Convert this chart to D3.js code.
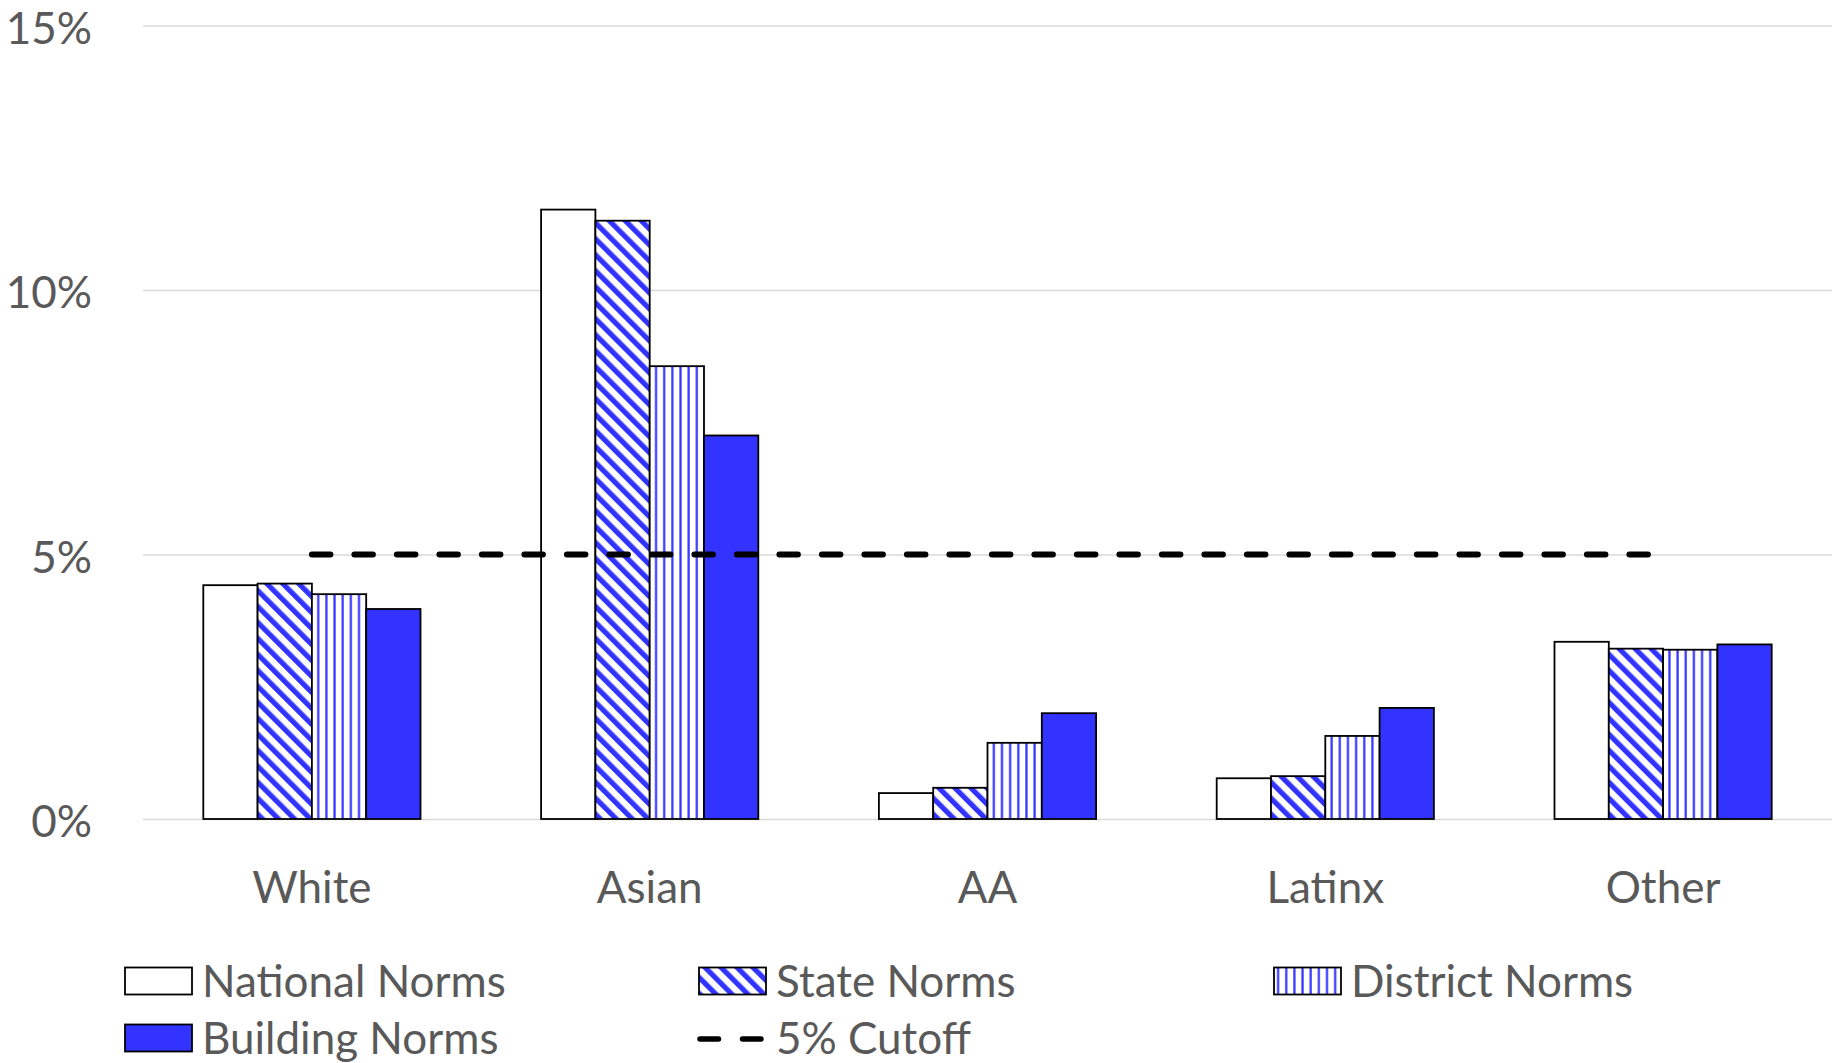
<!DOCTYPE html>
<html>
<head>
<meta charset="utf-8">
<script src="https://cdn.jsdelivr.net/npm/d3@7"></script>
<style>
  html, body { margin: 0; padding: 0; background: #ffffff; }
  svg { display: block; }
  text { font-family: Lato, "Open Sans", sans-serif; fill: #595959; }
</style>
</head>
<body>
<svg id="chart" width="1832" height="1063"></svg>
<script>
// ---- Data ----
const categories = ["White", "Asian", "AA", "Latinx", "Other"];
const seriesNames = ["National Norms", "State Norms", "District Norms", "Building Norms"];
const nationalNorms = [4.42, 11.52, 0.49, 0.77, 3.35];
const stateNorms    = [4.45, 11.31, 0.59, 0.81, 3.22];
const districtNorms = [4.25, 8.56, 1.44, 1.57, 3.20];
const buildingNorms = [3.97, 7.25, 2.00, 2.10, 3.30];
const cutoffValues  = [5, 5, 5, 5, 5];
const cutoffName = "5% Cutoff";
const yTicks = [0, 5, 10, 15];
const yTickLabels = ["0%", "5%", "10%", "15%"];

const seriesValues = [nationalNorms, stateNorms, districtNorms, buildingNorms];

// ---- Layout ----
const W = 1832, H = 1063;
const plotLeft = 143, plotRight = 1832;
const plotTop = 25.5, plotBottom = 819;
const BLUE = "#3333FF";
const GRID = "#D9D9D9";
const FONT_SIZE = 44;

const svg = d3.select("#chart");

// patterns
const defs = svg.append("defs");
const pState = defs.append("pattern")
  .attr("id", "patState")
  .attr("patternUnits", "userSpaceOnUse")
  .attr("width", 11.3).attr("height", 11.3)
  .attr("patternTransform", "rotate(-45)");
pState.append("rect").attr("width", 11.3).attr("height", 11.3).attr("fill", "#fff");
pState.append("rect").attr("x", 0).attr("width", 5.2).attr("height", 11.3).attr("fill", BLUE);

const pDist = defs.append("pattern")
  .attr("id", "patDistrict")
  .attr("patternUnits", "userSpaceOnUse")
  .attr("width", 8.15).attr("height", 10);
pDist.append("rect").attr("width", 8.15).attr("height", 10).attr("fill", "#fff");
pDist.append("rect").attr("x", 3).attr("width", 2.2).attr("height", 10).attr("fill", BLUE);

const fills = ["#ffffff", "url(#patState)", "url(#patDistrict)", BLUE];

// scales
const x0 = d3.scaleBand().domain(categories).range([plotLeft, plotRight]).padding(0);
const groupFrac = 0.643;
const bw = x0.bandwidth();
const x1 = d3.scaleBand().domain(seriesNames)
  .range([bw * (1 - groupFrac) / 2, bw * (1 + groupFrac) / 2]).padding(0);
const y = d3.scaleLinear().domain([0, 15]).range([plotBottom, plotTop]);

// gridlines
const grid = svg.append("g")
  .attr("transform", `translate(${plotLeft},0)`)
  .call(d3.axisRight(y).tickValues(yTicks).tickSize(plotRight - plotLeft).tickFormat(""));
grid.select(".domain").remove();
grid.selectAll("line").attr("stroke", GRID).attr("stroke-width", 1.6);

// y-axis labels
const yAxis = svg.append("g")
  .attr("transform", `translate(92,0)`)
  .call(d3.axisLeft(y).tickValues(yTicks).tickSize(0).tickPadding(0)
    .tickFormat((d, i) => yTickLabels[i]));
yAxis.select(".domain").remove();
yAxis.selectAll("text")
  .attr("font-size", FONT_SIZE)
  .attr("fill", "#595959")
  .attr("dy", null)
  .attr("y", 17.5)
  .style("font-family", "Lato, sans-serif");

// bars
const rows = categories.map((c, ci) => ({
  cat: c,
  vals: seriesNames.map((s, si) => ({ s, si, v: seriesValues[si][ci] }))
}));
const groups = svg.append("g").selectAll("g")
  .data(rows).join("g")
  .attr("transform", d => `translate(${x0(d.cat)},0)`);
groups.selectAll("rect")
  .data(d => d.vals).join("rect")
  .attr("x", d => x1(d.s))
  .attr("width", x1.bandwidth())
  .attr("y", d => y(d.v))
  .attr("height", d => y(0) - y(d.v))
  .attr("fill", d => fills[d.si])
  .attr("stroke", "#000")
  .attr("stroke-width", 1.8);

// cutoff line
const line = d3.line()
  .x((d, i) => x0(categories[i]) + bw / 2)
  .y(d => y(d));
svg.append("path")
  .datum(cutoffValues)
  .attr("d", line)
  .attr("fill", "none")
  .attr("stroke", "#000")
  .attr("stroke-width", 6)
  .attr("stroke-linecap", "round")
  .attr("stroke-dasharray", "18.5,24");

// category labels
svg.append("g").selectAll("text")
  .data(categories).join("text")
  .attr("x", d => x0(d) + bw / 2)
  .attr("y", 903)
  .attr("text-anchor", "middle")
  .attr("font-size", FONT_SIZE)
  .text(d => d);

// legend
const legendItems = [
  { name: seriesNames[0], type: "rect", fill: fills[0], x: 125, cy: 981 },
  { name: seriesNames[1], type: "rect", fill: fills[1], x: 699, cy: 981 },
  { name: seriesNames[2], type: "rect", fill: fills[2], x: 1274, cy: 981 },
  { name: seriesNames[3], type: "rect", fill: fills[3], x: 125, cy: 1038 },
  { name: cutoffName, type: "line", x: 699, cy: 1038 }
];
const lg = svg.append("g").selectAll("g").data(legendItems).join("g")
  .attr("transform", d => `translate(${d.x},${d.cy})`);
lg.filter(d => d.type === "rect").append("rect")
  .attr("x", 0).attr("y", -13.5).attr("width", 67).attr("height", 27)
  .attr("fill", d => d.fill).attr("stroke", "#000").attr("stroke-width", 1.8);
lg.filter(d => d.type === "line").append("line")
  .attr("x1", 1).attr("x2", 66).attr("y1", 1).attr("y2", 1)
  .attr("stroke", "#000").attr("stroke-width", 5.5)
  .attr("stroke-linecap", "round").attr("stroke-dasharray", "18.5,24");
lg.append("text")
  .attr("x", 77).attr("y", 15.5)
  .attr("font-size", FONT_SIZE)
  .text(d => d.name);
</script>
</body>
</html>
